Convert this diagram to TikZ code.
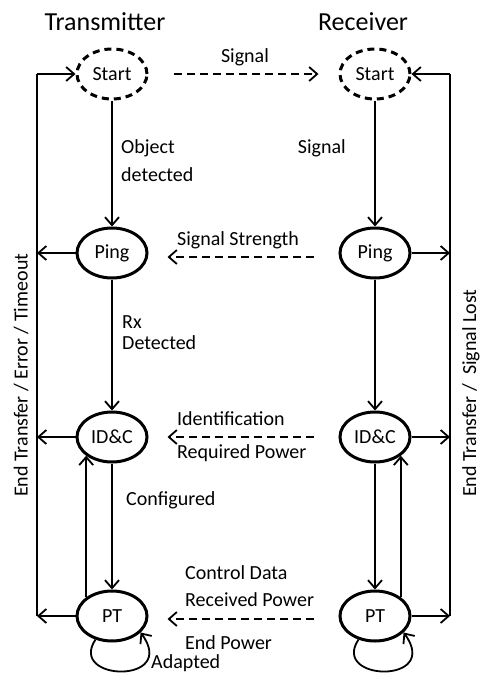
\documentclass[tikz,border=0pt]{standalone}
\usepackage{fontspec}
\setmainfont{Carlito}
\usetikzlibrary{arrows.meta,shapes.geometric}
\begin{document}
\begin{tikzpicture}[x=1pt,y=-1pt,
  state/.style={ellipse, draw, line width=3pt, minimum width=70pt, minimum height=50pt, inner sep=0pt, font=\fontsize{20}{22}\selectfont},
  startst/.style={state, dash pattern=on 7pt off 5pt},
  conn/.style={line width=1.8pt, -{Straight Barb[length=8pt,width=14pt,line width=1.8pt]}},
  msg/.style={conn, dash pattern=on 8pt off 5pt},
  plain/.style={line width=1.8pt},
  lbl/.style={font=\fontsize{20}{24}\selectfont, inner sep=0pt},
  ttl/.style={font=\fontsize{26}{30}\selectfont, inner sep=0pt}]
\useasboundingbox (0,0) rectangle (491,677);
\fill[white] (0,0) rectangle (491,677);

\node[ttl] (t1) at (105,22) {Transmitter};
\node[ttl] (t2) at (363,22) {Receiver};

\node[startst] (ts) at (112,74) {Start};
\node[startst] (rs) at (375,74) {Start};
\node[state] (tp) at (112,253) {Ping};
\node[state] (rp) at (375,253) {Ping};
\node[state] (ti) at (112,437) {ID\&C};
\node[state] (ri) at (375,437) {ID\&C};
\node[state] (tt) at (112,616) {PT};
\node[state] (rt) at (375,616) {PT};

% vertical transitions
\draw[conn] (ts) -- (tp);
\draw[conn] (tp) -- (ti);
\draw[conn] (ti) -- (tt);
\draw[conn] (tt.north west) -- (ti.south west);
\draw[conn] (rs) -- (rp);
\draw[conn] (rp) -- (ri);
\draw[conn] (ri) -- (rt);
\draw[conn] (rt.north east) -- (ri.south east);

% self loops
\draw[conn] (tt.235) .. controls +(-28,42) and +(38,52) .. (tt.-30);
\draw[conn] (rt.235) .. controls +(-28,42) and +(38,52) .. (rt.-30);

% side return lines
\coordinate (lt) at (37,74);
\coordinate (lb) at (37,616);
\coordinate (rtp) at (450,74);
\coordinate (rbt) at (450,616);
\draw[plain] (lb) -- (lt);
\draw[conn] (lt) -- (ts);
\draw[conn] (tp) -- (tp -| lt);
\draw[conn] (ti) -- (ti -| lt);
\draw[conn] (tt) -- (lb);
\draw[plain] (rbt) -- (rtp);
\draw[conn] (rtp) -- (rs);
\draw[conn] (rp) -- (rp -| rtp);
\draw[conn] (ri) -- (ri -| rtp);
\draw[conn] (rt) -- (rbt);

% messages
\draw[msg] ([xshift=25pt]ts.east) -- ([xshift=-20pt]rs.west);
\draw[msg] ([xshift=-25pt,yshift=-4pt]rp.west) -- ([xshift=19pt,yshift=-4pt]tp.east);
\draw[msg] ([xshift=-25pt]ri.west) -- ([xshift=19pt]ti.east);
\draw[msg] ([xshift=-25pt,yshift=-3pt]rt.west) -- ([xshift=19pt,yshift=-3pt]tt.east);

% labels
\node[lbl] (l1) at (245,57) {Signal};
\node[lbl] (l2) at (238,240) {Signal Strength};
\node[lbl, anchor=west] (l3) at (177,419) {Identification};
\node[lbl, anchor=west] (l4) at (177,453) {Required Power};
\node[lbl, anchor=west] (l5) at (185,573) {Control Data};
\node[lbl, anchor=west] (l6) at (185,600) {Received Power};
\node[lbl, anchor=west] (l7) at (185,643) {End Power};
\node[lbl, anchor=west] (l8) at (151,663) {Adapted};
\node[lbl, anchor=west] (l9) at (121,148) {Object};
\node[lbl, anchor=west] (l10) at (121,175) {detected};
\node[lbl, anchor=east] (l11) at (346,148) {Signal};
\node[lbl, anchor=west] (l12) at (122,322) {Rx};
\node[lbl, anchor=west] (l13) at (122,343) {Detected};
\node[lbl, anchor=west] (l14) at (126,500) {Configured};
\node[lbl, rotate=90, anchor=west] (l15) at (21,497) {End Transfer / Error / Timeout};
\node[lbl, rotate=90, anchor=west] (l16) at (471,497) {End Transfer /\ \ Signal Lost};
\end{tikzpicture}
\end{document}
